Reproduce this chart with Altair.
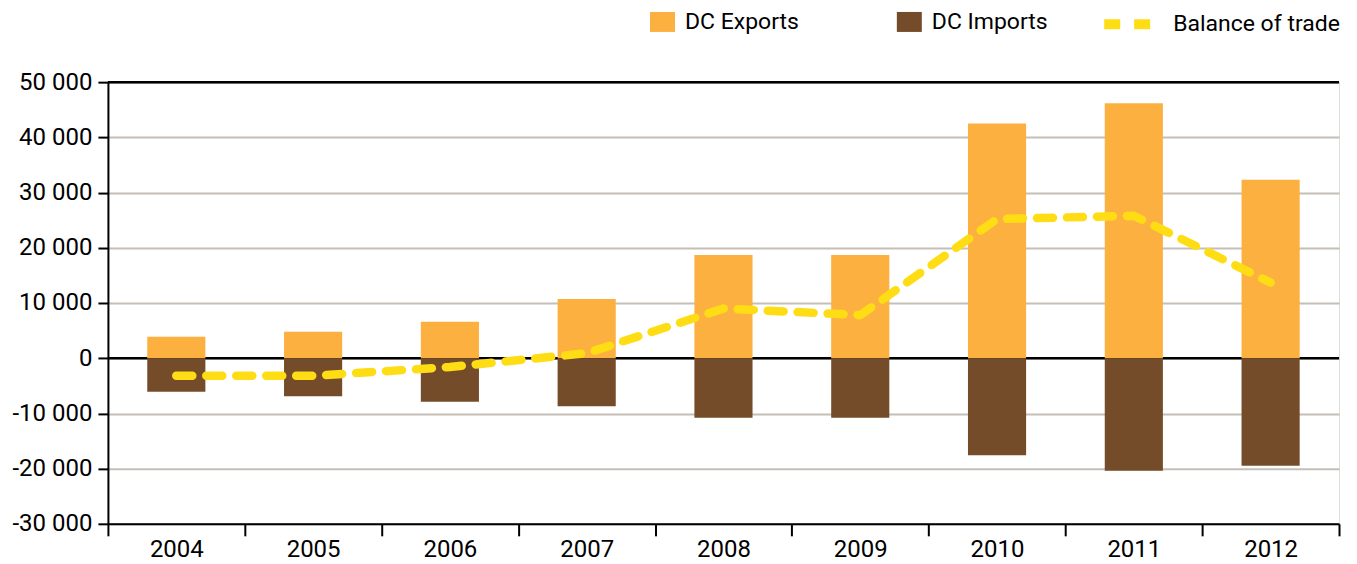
import altair as alt
import pandas as pd

years = ["2004", "2005", "2006", "2007", "2008", "2009", "2010", "2011", "2012"]
exports = [3900, 4800, 6600, 10700, 18700, 18700, 42500, 46200, 32300]
imports = [-6100, -6900, -7900, -8700, -10800, -10800, -17600, -20400, -19500]
balance = [-3200, -3200, -1600, 900, 9000, 7800, 25200, 25800, 13700]
y_ticks = [-30000, -20000, -10000, 0, 10000, 20000, 30000, 40000, 50000]
frame_lines = [0, 50000]

FONT = "Roboto"
EXP_C = "#FBB040"
IMP_C = "#754C29"
BAL_C = "#FFDD15"

bars_df = pd.DataFrame(
    [{"year": y, "series": "DC Exports", "value": v} for y, v in zip(years, exports)]
    + [{"year": y, "series": "DC Imports", "value": v} for y, v in zip(years, imports)]
)
bal_df = pd.DataFrame({"year": years, "value": balance, "series": "Balance of trade"})
rule_df = pd.DataFrame({"v": frame_lines})

xscale = alt.Scale(domain=years, paddingInner=0, paddingOuter=0)
yscale = alt.Scale(domain=[-30000, 50000], nice=False)

x_enc = alt.X(
    "year:N", scale=xscale, title=None,
    axis=alt.Axis(
        tickBand="extent", tickSize=12, tickWidth=2, tickColor="black",
        domainColor="black", domainWidth=2, labelAngle=0,
        labelFontSize=24, labelFont=FONT, labelColor="black", labelPadding=2,
        grid=False,
    ),
)
y_axis = alt.Axis(
    values=y_ticks, tickSize=10, tickWidth=2, tickColor="black",
    domainColor="black", domainWidth=2,
    labelFontSize=24, labelFont=FONT, labelColor="black", labelPadding=6,
    labelExpr="(datum.value < 0 ? '-' : '') + replace(format(abs(datum.value), ','), ',', ' ')",
    grid=True, gridColor="#C6BFB8", gridWidth=2,
)

rules = alt.Chart(rule_df).mark_rule(color="black", strokeWidth=2.5).encode(
    y=alt.Y("v:Q", scale=yscale, axis=y_axis, title=None)
)

bars = alt.Chart(bars_df).mark_bar(width=alt.RelativeBandSize(0.425)).encode(
    x=x_enc,
    y=alt.Y("value:Q", scale=yscale, stack=None, title=None),
    color=alt.Color(
        "series:N",
        scale=alt.Scale(domain=["DC Exports", "DC Imports"], range=[EXP_C, IMP_C]),
        legend=alt.Legend(
            title=None, orient="none", legendX=543.5, legendY=-72,
            direction="horizontal",
            symbolType="M-1.25,-1H1.25V1H-1.25Z", symbolSize=400,
            symbolStrokeWidth=0, labelFontSize=23, labelFont=FONT, labelColor="black",
            labelOffset=11, columnPadding=97, padding=0,
        ),
    ),
)

line = alt.Chart(bal_df).mark_line(
    color=BAL_C, strokeWidth=8.5, strokeCap="round", strokeJoin="round",
    interpolate="linear"
).encode(
    x=alt.X("year:N", scale=xscale),
    y=alt.Y("value:Q", scale=yscale),
    strokeDash=alt.StrokeDash(
        "series:N",
        scale=alt.Scale(domain=["Balance of trade"], range=[[16, 14]]),
        legend=alt.Legend(
            title=None, orient="none", legendX=992, legendY=-90.5,
            symbolType="stroke", symbolSize=3025, symbolStrokeWidth=10,
            symbolStrokeColor=BAL_C, symbolDash=[25, 5],
            labelFontSize=23, labelFont=FONT, labelColor="black",
            labelOffset=9, labelLimit=400, padding=0,
        ),
    ),
)

chart = alt.layer(rules, bars, line).resolve_scale(color="independent").properties(
    width=1232, height=442,
    autosize=alt.AutoSizeParams(type="none"),
    padding={"left": 100, "top": 74, "right": 10, "bottom": 40},
).configure_view(fill="#F4EFE9", stroke=None).configure(background="white")

chart.save("out.html", embed_options={"renderer": "svg", "actions": False})
